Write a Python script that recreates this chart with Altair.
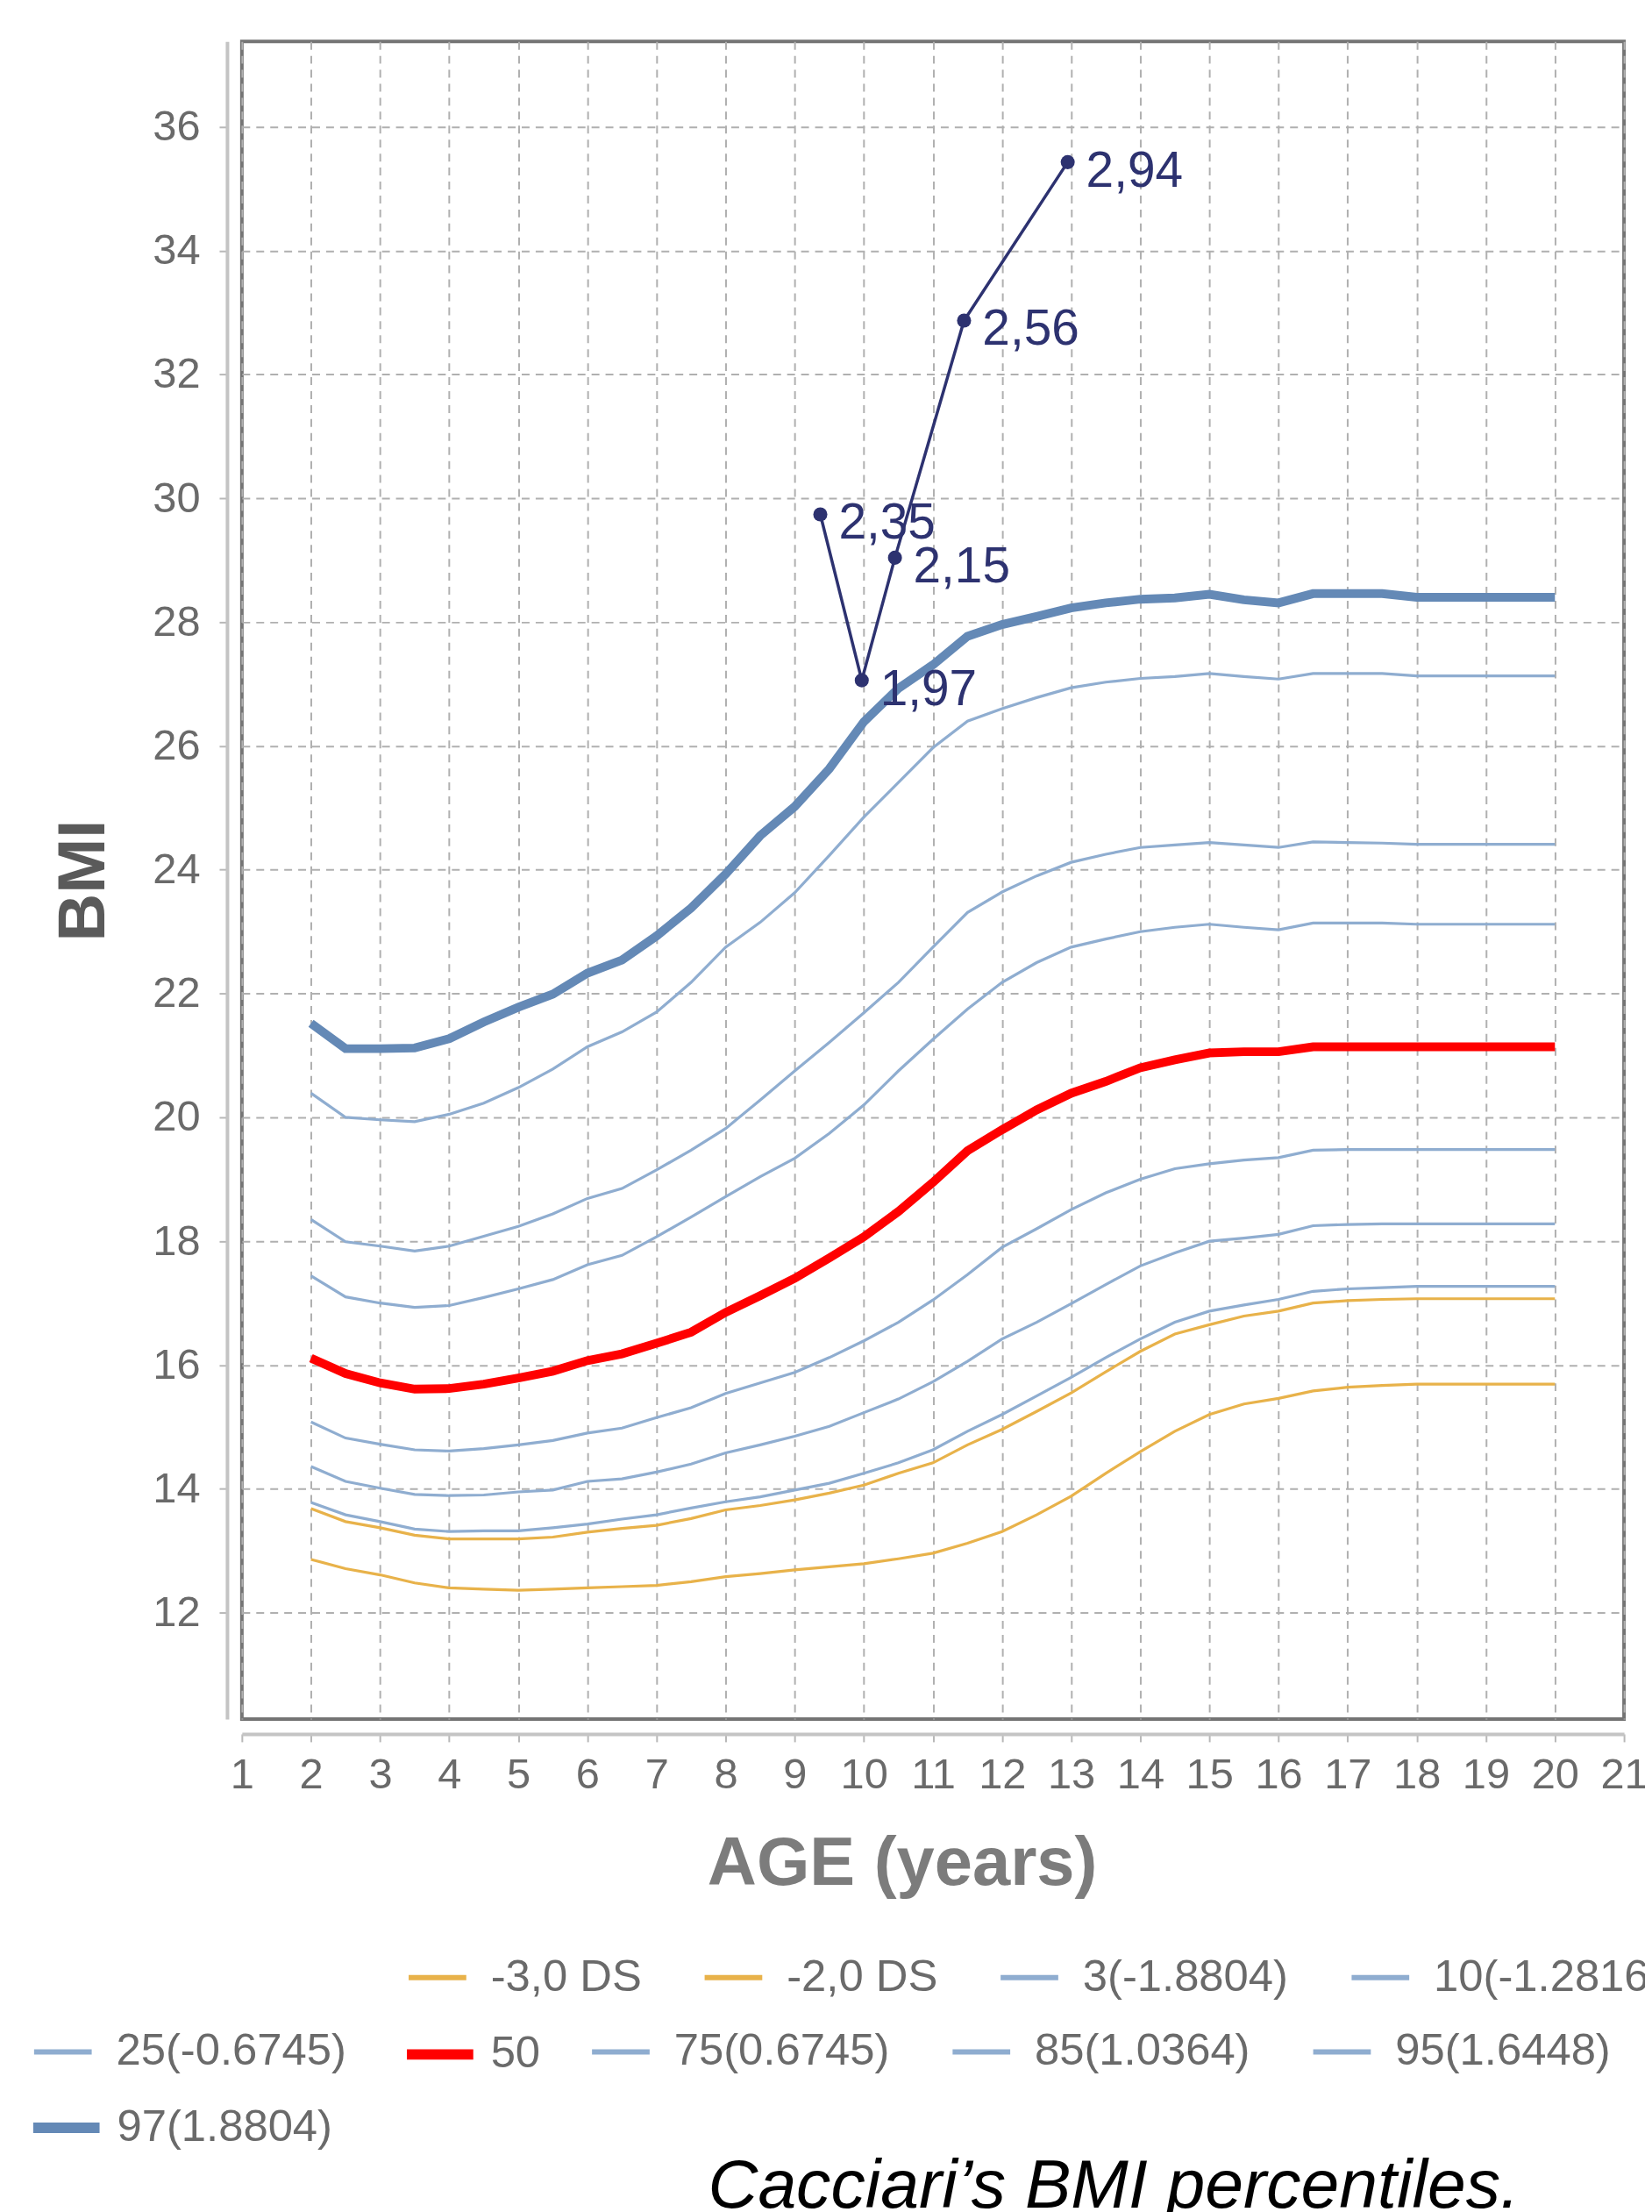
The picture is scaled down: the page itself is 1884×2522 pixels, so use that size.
import altair as alt
import pandas as pd

# ---------------- data ----------------
AGES = [2.0, 2.5, 3.0, 3.5, 4.0, 4.5, 5.0, 5.5, 6.0, 6.5, 7.0, 7.5, 8.0, 8.5,
        9.0, 9.5, 10.0, 10.5, 11.0, 11.5, 12.0, 12.5, 13.0, 13.5, 14.0, 14.5,
        15.0, 15.5, 16.0, 16.5, 17.0, 17.5, 18.0, 18.5, 19.0, 19.5, 20.0]

DS_M3 = [12.86, 12.71, 12.61, 12.48, 12.40, 12.38, 12.36, 12.38, 12.40, 12.42, 12.44, 12.50, 12.58,
         12.63, 12.69, 12.74, 12.79, 12.87, 12.96, 13.12, 13.31, 13.58, 13.88, 14.25, 14.60, 14.93,
         15.20, 15.37, 15.46, 15.58, 15.64, 15.67, 15.69, 15.69, 15.69, 15.69, 15.69]
DS_M2 = [13.68, 13.47, 13.37, 13.25, 13.19, 13.19, 13.19, 13.22, 13.30, 13.36, 13.41, 13.52, 13.66,
         13.73, 13.82, 13.93, 14.06, 14.25, 14.42, 14.71, 14.96, 15.25, 15.55, 15.89, 16.22, 16.50,
         16.65, 16.79, 16.87, 17.00, 17.04, 17.06, 17.07, 17.07, 17.07, 17.07, 17.07]
P3 = [13.78, 13.58, 13.47, 13.35, 13.31, 13.32, 13.32, 13.37, 13.43, 13.51, 13.58, 13.69, 13.79,
      13.87, 13.98, 14.09, 14.25, 14.42, 14.63, 14.93, 15.20, 15.50, 15.80, 16.12, 16.42, 16.69,
      16.87, 16.97, 17.06, 17.19, 17.23, 17.25, 17.27, 17.27, 17.27, 17.27, 17.27]
P10 = [14.36, 14.12, 14.01, 13.91, 13.89, 13.90, 13.95, 13.98, 14.12, 14.16, 14.27, 14.40, 14.58,
       14.71, 14.85, 15.01, 15.23, 15.45, 15.73, 16.06, 16.42, 16.69, 16.99, 17.30, 17.60, 17.81,
       18.00, 18.05, 18.11, 18.25, 18.27, 18.28, 18.28, 18.28, 18.28, 18.28, 18.28]
P25 = [15.08, 14.82, 14.72, 14.63, 14.61, 14.65, 14.71, 14.78, 14.90, 14.98, 15.15, 15.31, 15.54,
       15.71, 15.88, 16.12, 16.39, 16.69, 17.05, 17.46, 17.90, 18.20, 18.51, 18.78, 19.00, 19.17,
       19.25, 19.31, 19.35, 19.47, 19.48, 19.48, 19.48, 19.48, 19.48, 19.48, 19.48]
P50 = [16.11, 15.86, 15.71, 15.61, 15.62, 15.69, 15.79, 15.90, 16.07, 16.18, 16.35, 16.53, 16.85,
       17.12, 17.40, 17.73, 18.07, 18.48, 18.95, 19.46, 19.80, 20.12, 20.39, 20.58, 20.80, 20.93,
       21.04, 21.06, 21.06, 21.14, 21.14, 21.14, 21.14, 21.14, 21.14, 21.14, 21.14]
P75 = [17.44, 17.10, 17.00, 16.93, 16.96, 17.09, 17.23, 17.38, 17.62, 17.77, 18.07, 18.39, 18.72,
       19.04, 19.34, 19.74, 20.20, 20.75, 21.26, 21.75, 22.18, 22.50, 22.75, 22.88, 23.00, 23.07,
       23.12, 23.07, 23.03, 23.14, 23.14, 23.14, 23.12, 23.12, 23.12, 23.12, 23.12]
P85 = [18.35, 17.99, 17.92, 17.84, 17.92, 18.08, 18.24, 18.44, 18.69, 18.85, 19.15, 19.47, 19.82,
       20.28, 20.75, 21.21, 21.69, 22.18, 22.75, 23.31, 23.64, 23.90, 24.12, 24.25, 24.36, 24.40,
       24.44, 24.40, 24.36, 24.45, 24.44, 24.43, 24.41, 24.41, 24.41, 24.41, 24.41]
P95 = [20.39, 20.00, 19.96, 19.93, 20.05, 20.23, 20.48, 20.78, 21.14, 21.38, 21.70, 22.18, 22.75,
       23.15, 23.63, 24.23, 24.85, 25.41, 25.97, 26.40, 26.60, 26.78, 26.94, 27.03, 27.09, 27.12,
       27.17, 27.12, 27.08, 27.17, 27.17, 27.17, 27.13, 27.13, 27.13, 27.13, 27.13]
P97 = [21.52, 21.11, 21.11, 21.12, 21.27, 21.54, 21.78, 21.99, 22.33, 22.54, 22.93, 23.38, 23.93,
       24.55, 25.02, 25.63, 26.39, 26.93, 27.31, 27.77, 27.96, 28.09, 28.23, 28.31, 28.37, 28.39,
       28.45, 28.36, 28.31, 28.46, 28.46, 28.46, 28.40, 28.40, 28.40, 28.40, 28.40]

SERIES_NAMES = ["-3,0 DS", "-2,0 DS", "3(-1.8804)", "10(-1.2816)", "25(-0.6745)", "50",
                "75(0.6745)", "85(1.0364)", "95(1.6448)", "97(1.8804)"]
SERIES_VALUES = [DS_M3, DS_M2, P3, P10, P25, P50, P75, P85, P95, P97]

PAT_AGE = [9.37, 9.97, 10.45, 11.45, 12.95]
PAT_BMI = [29.74, 27.06, 29.04, 32.87, 35.43]
PAT_LABEL = ["2,35", "1,97", "2,15", "2,56", "2,94"]

X_TICKS = [1, 2, 3, 4, 5, 6, 7, 8, 9, 10, 11, 12, 13, 14, 15, 16, 17, 18, 19, 20, 21]
Y_TICKS = [12, 14, 16, 18, 20, 22, 24, 26, 28, 30, 32, 34, 36]

# ---------------- styles ----------------
ORANGE = "#e8b24a"
THIN_BLUE = "#8fadd0"
RED = "#ff0000"
DARK_BLUE = "#6489b6"
NAVY = "#2d3270"
FONT = "Liberation Sans"

COLOR_OF = {"-3,0 DS": ORANGE, "-2,0 DS": ORANGE, "3(-1.8804)": THIN_BLUE,
            "10(-1.2816)": THIN_BLUE, "25(-0.6745)": THIN_BLUE, "50": RED,
            "75(0.6745)": THIN_BLUE, "85(1.0364)": THIN_BLUE, "95(1.6448)": THIN_BLUE,
            "97(1.8804)": DARK_BLUE}

rows = []
for name, vals in zip(SERIES_NAMES, SERIES_VALUES):
    for a, v in zip(AGES, vals):
        rows.append({"series": name, "age": a, "bmi": v})
df = pd.DataFrame(rows)

pat = pd.DataFrame({"age": PAT_AGE, "bmi": PAT_BMI, "label": PAT_LABEL})

W, H = 1583, 1921

axis_common = dict(
    offset=17, domainColor="#c4c4c4", domainWidth=4,
    tickColor="#b8b8b8", tickWidth=2, tickSize=9,
    labelFont=FONT, labelFontSize=49, labelColor="#6a6a6a",
    grid=True, gridColor="#b0b0b0", gridDash=[9, 7], gridWidth=2,
    titleFont=FONT, labelFlush=False, labelOverlap=False,
)

x_enc = alt.X("age:Q",
              scale=alt.Scale(domain=[1, 21], nice=False, zero=False),
              axis=alt.Axis(values=X_TICKS, format="d", title="AGE (years)",
                            labelPadding=14, titleFontSize=78, titleFontWeight="bold",
                            titleColor="#7c7c7c",
                            titleX=756, titleY=110, titleBaseline="top",
                            **axis_common))
y_enc = alt.Y("bmi:Q",
              scale=alt.Scale(domain=[10.28, 37.38], nice=False, zero=False),
              axis=alt.Axis(values=Y_TICKS, format="d", title="BMI",
                            labelPadding=22, titleFontSize=76, titleFontWeight="bold",
                            titleColor="#5a5a5a", titleX=-164, titleY=H / 2,
                            titleBaseline="middle", titleAngle=270,
                            **axis_common))


def legend_for(x, y, thick):
    return alt.Legend(
        title=None, orient="none", legendX=x, legendY=y, direction="horizontal",
        symbolType="stroke", symbolSize=(5776 if thick else 4356),
        symbolStrokeWidth=(12 if thick else 6), symbolOpacity=1,
        labelFont=FONT, labelFontSize=51, labelColor="#6a6a6a",
        labelOffset=(14 if thick else 25), columnPadding=60, padding=0,
        labelLimit=2000,
    )


def band(names, lx, ly, thick, width):
    sub = df[df["series"].isin(names)]
    return alt.Chart(sub).mark_line(strokeWidth=width, clip=True).encode(
        x=x_enc, y=y_enc,
        color=alt.Color("series:N",
                        scale=alt.Scale(domain=names, range=[COLOR_OF[n] for n in names]),
                        legend=legend_for(lx, ly, thick)),
    )


ROW1 = ["-3,0 DS", "-2,0 DS", "3(-1.8804)", "10(-1.2816)"]
ROW2A = ["25(-0.6745)"]
ROW2B = ["50"]
ROW2C = ["75(0.6745)", "85(1.0364)", "95(1.6448)"]
ROW3 = ["97(1.8804)"]

l1 = band(ROW1, 188, 2181, False, 3.2)
l2a = band(ROW2A, -241, 2266, False, 3.2)
l2b = band(ROW2B, 183, 2261, True, 10)
l2c = band(ROW2C, 398, 2266, False, 3.2)
l3 = band(ROW3, -245, 2345, True, 10)

pat_line = alt.Chart(pat).mark_line(color=NAVY, strokeWidth=3.5).encode(
    x=x_enc, y=y_enc, order="age:Q")
pat_pts = alt.Chart(pat).mark_point(filled=True, shape="circle", color=NAVY,
                                    size=260, opacity=1).encode(
    x=x_enc, y=y_enc)
pat_txt = alt.Chart(pat).mark_text(color=NAVY, align="left", baseline="middle",
                                   dx=21, dy=11, fontSize=57, font=FONT).encode(
    x=x_enc, y=y_enc, text="label:N")

chart = alt.layer(l1, l2a, l2b, l2c, l3, pat_line, pat_pts, pat_txt).resolve_scale(
    color="independent"
).properties(
    width=W, height=H,
    background="white",
    padding={"left": 269, "top": 34, "right": 24, "bottom": 559},
    autosize=alt.AutoSizeParams(type="none"),
    title=alt.TitleParams(text="Cacciari\u2019s BMI percentiles.", orient="bottom",
                          anchor="start", frame="group", dx=534, offset=4,
                          font=FONT, fontSize=79, fontStyle="italic",
                          fontWeight="normal", color="#000000"),
).configure_view(stroke="#747474", strokeWidth=4)

chart.save("out.html", embed_options={"renderer": "svg", "actions": False})
